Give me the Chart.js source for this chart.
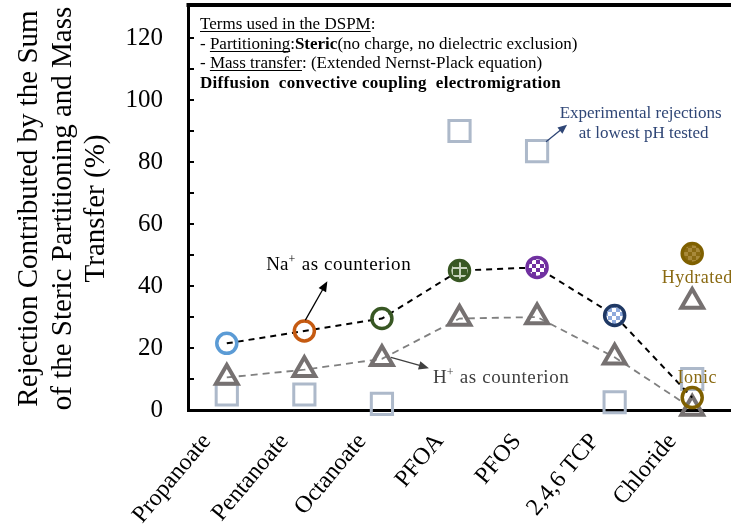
<!DOCTYPE html>
<html>
<head>
<meta charset="utf-8">
<script src="https://cdn.jsdelivr.net/npm/chart.js@4/dist/chart.umd.min.js"></script>
<style>
  html, body { margin: 0; padding: 0; background: #fff; }
</style>
</head>
<body>
<canvas id="chart" width="731" height="531"></canvas>
<script>
const categories = ["Propanoate", "Pentanoate", "Octanoate", "PFOA", "PFOS", "2,4,6 TCP", "Chloride"];
const naCounterion = [21.5, 25.5, 29.5, 45, 46, 30.5, 4];
const hCounterion = [10.5, 13, 16.5, 29.5, 30, 17, 0.5];
const experimental = [5, 5, 2, 90, 83.5, 2.5, 10];
const hydratedCircle = [null, null, null, null, null, null, 50.5];
const hydratedTriangle = [null, null, null, null, null, null, 35];
const yTickLabels = [0, 20, 40, 60, 80, 100, 120];

const serif = "'Liberation Serif', 'Times New Roman', serif";

// small fill patterns for the filled markers
function pattern(bg, fg, kind) {
  const c = document.createElement("canvas");
  c.width = 8; c.height = 8;
  const g = c.getContext("2d");
  g.fillStyle = bg; g.fillRect(0, 0, 8, 8);
  g.fillStyle = fg;
  if (kind === "checker") { g.fillRect(0, 0, 4, 4); g.fillRect(4, 4, 4, 4); }
  else { g.fillRect(3, 0, 2, 8); g.fillRect(0, 3, 8, 2); }
  return g.createPattern(c, "repeat");
}

const naBorder = ["#5B9BD5", "#C55A11", "#385723", "#385723", "#7030A0", "#1F3864", "#7F6000"];
const naFill = [
  "rgba(0,0,0,0)", "rgba(0,0,0,0)", "rgba(0,0,0,0)",
  pattern("#3B5A25", "#C8D3BE", "cross"),
  pattern("#7030A0", "#FFFFFF", "checker"),
  pattern("#8FAADC", "#FFFFFF", "checker"),
  "rgba(0,0,0,0)"
];

// drop the extra room Chart.js keeps for the edge labels
function noPadding(s) {
  s.paddingTop = 0; s.paddingBottom = 0; s.paddingLeft = 0; s.paddingRight = 0;
}

const annotations = {
  id: "annotations",
  afterDraw(chart) {
    const { ctx, chartArea: a, scales } = chart;
    const X = v => scales.x.getPixelForValue(v);
    const Y = v => scales.y.getPixelForValue(v);
    ctx.save();

    // top frame line
    ctx.strokeStyle = "#000"; ctx.lineWidth = 4;
    ctx.beginPath(); ctx.moveTo(a.left - 1.5, a.top - 2); ctx.lineTo(a.right, a.top - 2); ctx.stroke();

    // inward minor ticks on y axis
    ctx.lineWidth = 2;
    for (let v = 10; v <= 120; v += 10) {
      ctx.beginPath(); ctx.moveTo(a.left, Y(v)); ctx.lineTo(a.left + 6, Y(v)); ctx.stroke();
    }

    // text box
    function runs(x, y, parts) {
      for (const p of parts) {
        ctx.font = (p.b ? "bold " : "") + "17px " + serif;
        ctx.fillStyle = "#000";
        ctx.fillText(p.t, x, y);
        const w = ctx.measureText(p.t).width;
        if (p.u) { ctx.fillRect(x, y + 2, w, 1); }
        x += w;
      }
    }
    ctx.textBaseline = "alphabetic"; ctx.textAlign = "left";
    const bx = a.left + 12;
    runs(bx, a.top + 22, [{ t: "Terms used in the DSPM", u: true }, { t: ":" }]);
    runs(bx, a.top + 42, [{ t: "- " }, { t: "Partitioning", u: true }, { t: ":" }, { t: "Steric", b: true }, { t: "(no charge, no dielectric exclusion)" }]);
    runs(bx, a.top + 61, [{ t: "- " }, { t: "Mass transfer", u: true }, { t: ": (Extended Nernst-Plack equation)" }]);
    ctx.letterSpacing = "0.3px";
    runs(bx, a.top + 81, [{ t: "Diffusion  convective coupling  electromigration", b: true }]);
    ctx.letterSpacing = "0px";

    function arrow(x1, y1, x2, y2, color, head) {
      const ang = Math.atan2(y2 - y1, x2 - x1);
      ctx.strokeStyle = color; ctx.fillStyle = color; ctx.lineWidth = 1.3;
      ctx.beginPath(); ctx.moveTo(x1, y1);
      ctx.lineTo(x2 - Math.cos(ang) * head * 0.8, y2 - Math.sin(ang) * head * 0.8); ctx.stroke();
      ctx.beginPath(); ctx.moveTo(x2, y2);
      ctx.lineTo(x2 - head * Math.cos(ang - 0.4), y2 - head * Math.sin(ang - 0.4));
      ctx.lineTo(x2 - head * Math.cos(ang + 0.4), y2 - head * Math.sin(ang + 0.4));
      ctx.closePath(); ctx.fill();
    }

    // Na+ label
    arrow(X(1) + 1, Y(29), X(1) + 23, Y(41.5), "#000", 11);
    function supLabel(x, y, base, rest, color) {
      ctx.fillStyle = color;
      ctx.font = "19px " + serif;
      ctx.fillText(base, x, y);
      let w = ctx.measureText(base).width;
      ctx.font = "12px " + serif;
      ctx.fillText("+", x + w, y - 7);
      w += ctx.measureText("+").width;
      ctx.font = "19px " + serif;
      ctx.letterSpacing = "0.6px";
      ctx.fillText(rest, x + w + 1, y);
      ctx.letterSpacing = "0px";
    }
    supLabel(X(1) - 38, Y(45.3), "Na", " as counterion", "#000");

    // H+ label
    arrow(X(2) + 9, Y(17), X(2) + 47, Y(13.5), "#404040", 11);
    supLabel(X(2) + 51, Y(8.8), "H", " as counterion", "#404040");

    // experimental label
    arrow(X(4) + 9, Y(86.5), X(4) + 30, Y(92), "#2F4676", 10);
    ctx.fillStyle = "#2F4676"; ctx.font = "17px " + serif; ctx.textAlign = "center";
    ctx.fillText("Experimental rejections", X(5) + 26, Y(94.3));
    ctx.fillText("at lowest pH tested", X(5) + 29, Y(87.8));

    // chloride labels
    ctx.fillStyle = "#8A6A12";
    ctx.font = "18px " + serif;
    ctx.letterSpacing = "0.5px";
    ctx.fillText("Hydrated", X(6) + 5, Y(41));
    ctx.fillText("Ionic", X(6) + 5, Y(8.8));
    ctx.restore();
  }
};

new Chart(document.getElementById("chart"), {
  type: "line",
  data: {
    labels: categories,
    datasets: [
      {
        label: "Hydrated",
        data: hydratedCircle,
        showLine: false,
        pointRadius: 10,
        pointBorderWidth: 3.5,
        pointBorderColor: "#7F6000",
        pointBackgroundColor: pattern("#8A6A12", "#A8893A", "checker")
      },
      {
        label: "Na+ as counterion",
        data: naCounterion,
        borderColor: "#000",
        borderWidth: 2,
        borderDash: [6, 5],
        pointRadius: 10,
        pointBorderWidth: 3.5,
        pointBorderColor: naBorder,
        pointBackgroundColor: naFill
      },
      {
        label: "Hydrated triangle",
        data: hydratedTriangle,
        showLine: false,
        pointStyle: "triangle",
        pointRadius: 12.5,
        pointBorderWidth: 4,
        pointBorderColor: "#767171",
        pointBackgroundColor: "rgba(0,0,0,0)"
      },
      {
        label: "H+ as counterion",
        data: hCounterion,
        borderColor: "#808080",
        borderWidth: 1.8,
        borderDash: [7, 5],
        pointStyle: "triangle",
        pointRadius: 12.5,
        pointBorderWidth: 4,
        pointBorderColor: "#767171",
        pointBackgroundColor: "rgba(0,0,0,0)"
      },
      {
        label: "Experimental",
        data: experimental,
        showLine: false,
        pointStyle: "rect",
        pointRadius: 15,
        pointBorderWidth: 3,
        pointBorderColor: "#ADB9CA",
        pointBackgroundColor: "rgba(0,0,0,0)"
      }
    ]
  },
  options: {
    responsive: false,
    animation: false,
    clip: false,
    layout: { autoPadding: false, padding: { top: 7, right: 0, left: 0, bottom: 0 } },
    plugins: {
      legend: { display: false },
      tooltip: { enabled: false }
    },
    scales: {
      x: {
        offset: true,
        grid: { display: false },
        border: { display: true, color: "#000", width: 3 },
        afterFit: s => {
          s.height = 121;
          noPadding(s);
        },
        ticks: {
          color: "#000",
          font: { family: serif, size: 24 },
          minRotation: 50,
          maxRotation: 50,
          autoSkip: false,
          padding: 10,
          labelOffset: -20
        }
      },
      y: {
        min: 0,
        max: 130,
        afterFit: s => {
          s.width = 188;
          noPadding(s);
        },
        grid: { display: false },
        border: { display: true, color: "#000", width: 3 },
        ticks: {
          stepSize: 10,
          autoSkip: false,
          color: "#000",
          padding: 17,
          font: { family: serif, size: 25 },
          callback: v => (yTickLabels.includes(v) ? v : "")
        },
        title: {
          display: true,
          text: ["Rejection Contributed by the Sum", "of the Steric Partitioning and Mass", "Transfer (%)"],
          color: "#000",
          font: { family: serif, size: 29, lineHeight: 1.17 },
          padding: { top: 12, bottom: 0 }
        }
      }
    }
  },
  plugins: [annotations]
});
</script>
</body>
</html>
